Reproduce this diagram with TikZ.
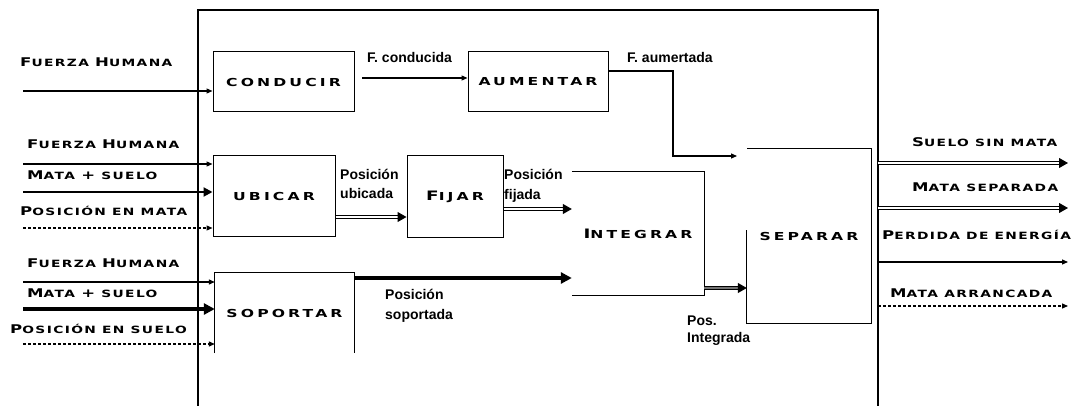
\documentclass[tikz,border=0pt]{standalone}
\usepackage{fontspec}
\usepackage{graphicx}
\setmainfont{Liberation Sans}
\newfontfamily\lblfont[LetterSpace=10]{DejaVu Sans}
\newfontfamily\boxfontfam[LetterSpace=20]{DejaVu Sans}
\usetikzlibrary{arrows.meta,calc}
\newcommand\fsc[2]{{\fontsize{12}{12}\selectfont #1}{\fontsize{10}{10}\selectfont\MakeUppercase{#2}}}
\newcommand\bsc[2]{{\fontsize{13}{13}\selectfont #1}{\fontsize{11}{11}\selectfont #2}}
\newcommand\wl[1]{\scalebox{1.38}[1]{#1}}
\newcommand\wb[1]{\scalebox{1.42}[1]{#1}}
\tikzset{
  frame/.style={line width=2.5pt},
  edge/.style={line width=1pt},
  box/.style={draw, line width=1pt, inner sep=0pt, font=\boxfontfam\bfseries\fontsize{11}{11}\selectfont},
  openbox/.style={draw=none, inner sep=0pt, font=\boxfontfam\bfseries\fontsize{11}{11}\selectfont},
  lbl/.style={inner sep=0pt, anchor=base west, font=\lblfont\bfseries\fontsize{10}{10}\selectfont},
  nlbl/.style={inner sep=0pt, anchor=base west, font=\bfseries\fontsize{14}{16}\selectfont},
  thinarr/.style={line width=1.2pt, -{Triangle[length=6pt,width=5pt]}},
  dasharr/.style={line width=1.2pt, dash pattern=on 3pt off 2pt, -{Triangle[length=6pt,width=5pt]}},
  medarr/.style={line width=2pt, -{Triangle[length=9pt,width=9pt]}},
  thickarr/.style={line width=4pt, -{Triangle[length=11pt,width=11pt]}},
  dblarr/.style={double, line width=1pt, double distance=1.5pt, -{Triangle[length=9pt,width=10pt]}},
  grayarr/.style={double=black!55, line width=1pt, double distance=2.5pt, -{Triangle[length=9pt,width=10pt]}},
}
\begin{document}
\begin{tikzpicture}[x=1pt,y=-1pt]
\useasboundingbox (0,0) rectangle (1086,406);
% outer frame
\draw[frame] (198,406) -- (198,10) -- (878,10) -- (878,406);

% boxes
\node[box, minimum width=141pt, minimum height=60pt] (conducir) at (283.5,82) {\wb{CONDUCIR}};
\node[box, minimum width=140pt, minimum height=60pt] (aumentar) at (538,82) {\wb{AUMENTAR}};
\node[box, minimum width=122pt, minimum height=80pt] (ubicar) at (274,196) {\wb{UBICAR}};
\node[box, minimum width=96pt, minimum height=81pt] (fijar) at (455,196.5) {\wb{\bsc{F}{IJAR}}};
\node[openbox, minimum width=132pt, minimum height=123pt] (integrar) at (638,233.5) {\wb{\bsc{I}{NTEGRAR}}};
\node[openbox, minimum width=124pt, minimum height=174pt] (separar) at (809,236) {\wb{SEPARAR}};
\node[openbox, minimum width=139pt, minimum height=80pt] (soportar) at (284.5,313) {\wb{SOPORTAR}};
\draw[edge] (integrar.north west) -- (integrar.north east) -- (integrar.south east) -- (integrar.south west);
\draw[edge] ($(separar.south west)+(0,-93)$) -- (separar.south west) -- (separar.south east) -- (separar.north east) -- (separar.north west);
\draw[edge] (soportar.south west) -- (soportar.north west) -- (soportar.north east) -- (soportar.south east);

% row 1
\coordinate (a1) at (23,91);
\draw[thinarr] (a1) -- (a1 -| conducir.west);
\coordinate (a2) at (362,78);
\draw[thinarr] (a2) -- (a2 -| aumentar.west);
\coordinate (a3s) at (aumentar.east |- 0,71);
\coordinate (a3m) at (673,71);
\coordinate (a3e) at (737,156);
\draw[thinarr] (a3s) -- (a3m) -- (a3m |- a3e) -- (a3e);

% row 2
\coordinate (b1) at (23,164);
\coordinate (b2) at (23,192);
\coordinate (b3) at (23,228);
\draw[thinarr] (b1) -- (b1 -| ubicar.west);
\draw[medarr] (b2) -- (b2 -| ubicar.west);
\draw[dasharr] (b3) -- (b3 -| ubicar.west);
\draw[dblarr] (ubicar.east |- 0,217) -- (fijar.west |- 0,217);
\draw[dblarr] (fijar.east |- 0,209) -- (integrar.west |- 0,209);

% row 3
\coordinate (c1) at (23,282);
\coordinate (c2) at (23,309);
\coordinate (c3) at (23,344);
\draw[thinarr] (c1) -- (c1 -| soportar.west);
\draw[thickarr] (c2) -- (c2 -| soportar.west);
\draw[dasharr] (c3) -- (c3 -| soportar.west);
\draw[thickarr] (soportar.north east |- 0,278) -- (integrar.west |- 0,278);
\draw[grayarr] (integrar.east |- 0,288) -- (separar.west |- 0,288);

% outputs
\coordinate (o1s) at (878,163); \coordinate (o1e) at (1068,163);
\coordinate (o2s) at (878,208); \coordinate (o2e) at (1068,208);
\coordinate (o3s) at (878,262); \coordinate (o3e) at (1068,262);
\coordinate (o4s) at (878,306); \coordinate (o4e) at (1068,306);
\draw[dblarr] (o1s) -- (o1e);
\draw[dblarr] (o2s) -- (o2e);
\draw[thinarr] (o3s) -- (o3e);
\draw[dasharr] (o4s) -- (o4e);

% labels left
\node[lbl] (l1) at (20,67) {\wl{\fsc{F}{uerza} \fsc{H}{umana}}};
\node[lbl] (l2) at (27,149) {\wl{\fsc{F}{uerza} \fsc{H}{umana}}};
\node[lbl] (l3) at (27,179) {\wl{\fsc{M}{ata} \fsc{+}{} \fsc{}{suelo}}};
\node[lbl] (l4) at (20,215) {\wl{\fsc{P}{osición en mata}}};
\node[lbl] (l5) at (27,267) {\wl{\fsc{F}{uerza} \fsc{H}{umana}}};
\node[lbl] (l6) at (27,297) {\wl{\fsc{M}{ata} \fsc{+}{} \fsc{}{suelo}}};
\node[lbl] (l7) at (10,333) {\wl{\fsc{P}{osición en suelo}}};
% labels right
\node[lbl] (r1) at (912,147) {\wl{\fsc{S}{uelo sin mata}}};
\node[lbl] (r2) at (912,191) {\wl{\fsc{M}{ata separada}}};
\node[lbl] (r3) at (882,239) {\wl{\fsc{P}{erdida de energía}}};
\node[lbl] (r4) at (890,297) {\wl{\fsc{M}{ata} \fsc{}{arrancada}}};
% flow labels
\node[nlbl] (n1) at (367,63) {F. conducida};
\node[nlbl] (n2) at (627,63) {F. aumertada};
\node[nlbl] (n3a) at (340,179) {Posición};
\node[nlbl] (n3b) at (340,199) {ubicada};
\node[nlbl] (n4a) at (504,180) {Posición};
\node[nlbl] (n4b) at (504,200) {fijada};
\node[nlbl] (n5a) at (385,299) {Posición};
\node[nlbl] (n5b) at (385,319) {soportada};
\node[nlbl] (n6a) at (687,325) {Pos.};
\node[nlbl] (n6b) at (687,342) {Integrada};
\end{tikzpicture}
\end{document}
